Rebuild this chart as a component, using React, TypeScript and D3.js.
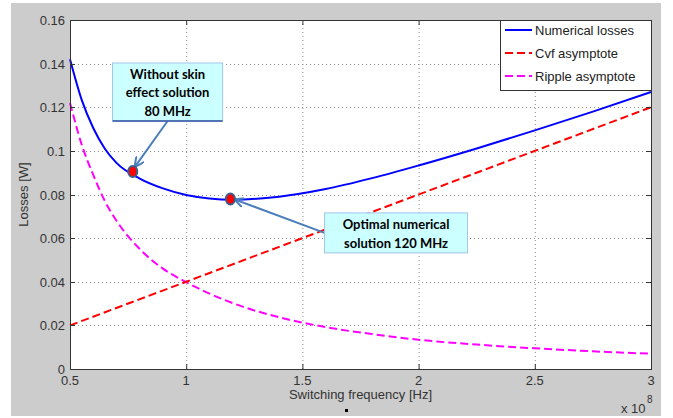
import React from 'react';
import * as d3 from 'd3';

// switching frequency in units of 1e8 Hz
const freq = [0.5, 0.55, 0.6, 0.65, 0.7, 0.8, 0.9, 1.0, 1.2, 1.4, 1.6, 1.8, 2.0, 2.25, 2.5, 2.75, 3.0];
const numericalLosses = [0.142, 0.1235, 0.1105, 0.101, 0.0945, 0.0873, 0.0828, 0.0798, 0.0776, 0.079, 0.0825, 0.0875, 0.0933, 0.1011, 0.1094, 0.118, 0.127];
const rippleAsymptote = [0.122, 0.103, 0.089, 0.077, 0.068, 0.055, 0.046, 0.0398, 0.0302, 0.0237, 0.0192, 0.016, 0.0134, 0.0112, 0.0095, 0.0081, 0.007];
const cvfFreq = [0.5, 3.0];
const cvfAsymptote = [0.02, 0.12];

const xTicks = [0.5, 1, 1.5, 2, 2.5, 3];
const xTickLabels = ['0.5', '1', '1.5', '2', '2.5', '3'];
const yTicks = [0, 0.02, 0.04, 0.06, 0.08, 0.1, 0.12, 0.14, 0.16];
const yTickLabels = ['0', '0.02', '0.04', '0.06', '0.08', '0.1', '0.12', '0.14', '0.16'];

const legendNames = ['Numerical losses', 'Cvf asymptote', 'Ripple asymptote'];
const legendColors = ['#0000ff', '#ff0000', '#ff00ff'];
const legendDash = [null, '8,4', '8,4'];

// highlighted solutions
const solutionFreq = [0.77, 1.19];
const solutionLoss = [0.0905, 0.0779];

const W = 673;
const H = 418;
const margin = { left: 70, top: 20, right: 22, bottom: 49 };

export default function App() {
  const x = d3.scaleLinear().domain([0.5, 3]).range([margin.left, W - margin.right]);
  const y = d3.scaleLinear().domain([0, 0.16]).range([H - margin.bottom, margin.top]);
  const x0 = x.range()[0];
  const x1 = x.range()[1];
  const y0 = y.range()[0];
  const y1 = y.range()[1];

  const line = d3
    .line<number>()
    .x((d, i) => x(freq[i]))
    .y(d => y(d))
    .curve(d3.curveMonotoneX);
  const cvfLine = d3
    .line<number>()
    .x((d, i) => x(cvfFreq[i]))
    .y(d => y(d));

  const font = '"Liberation Sans", Arial, sans-serif';
  const noteFont = 'Lato, "Open Sans", sans-serif';
  const arrowColor = '#4a7ebb';

  // annotation boxes, anchored in data space
  const box1 = { cx: x(0.92), cy: y(0.127), w: 110, h: 58 };
  const box2 = { cx: x(1.903), cy: y(0.0624), w: 143, h: 40 };

  return (
    <svg
      width={W}
      height={H}
      style={{ position: 'absolute', left: 0, top: 0, display: 'block' }}
    >
      <defs>
        <marker id="arrow" viewBox="0 0 10 10" refX="8" refY="5" markerWidth="5" markerHeight="5" orient="auto">
          <path d="M0,0 L10,5 L0,10" fill="none" stroke={arrowColor} strokeWidth="2" />
        </marker>
      </defs>
      <rect x={0} y={0} width={W} height={H} fill="#ffffff" />
      <rect x={11} y={3} width={650} height={413} fill="#cccccc" />
      <rect x={x0} y={y1} width={x1 - x0} height={y0 - y1} fill="#ffffff" />

      {/* grid */}
      <g stroke="#8a8a8a" strokeWidth={1} strokeDasharray="1,3">
        {xTicks.slice(1, -1).map(t => (
          <line key={'gx' + t} x1={x(t) + 0.5} x2={x(t) + 0.5} y1={y1} y2={y0} />
        ))}
        {yTicks.slice(1, -1).map(t => (
          <line key={'gy' + t} x1={x0} x2={x1} y1={Math.round(y(t)) + 0.5} y2={Math.round(y(t)) + 0.5} />
        ))}
      </g>

      {/* curves */}
      <path d={line(rippleAsymptote) || ''} fill="none" stroke="#ff00ff" strokeWidth={2} strokeDasharray="8,4" />
      <path d={cvfLine(cvfAsymptote) || ''} fill="none" stroke="#ff0000" strokeWidth={2} strokeDasharray="8,4" />
      <path d={line(numericalLosses) || ''} fill="none" stroke="#0000ff" strokeWidth={2} />

      {/* axes box & ticks */}
      <g stroke="#333333" strokeWidth={1} fill="none">
        <rect x={x0 + 0.5} y={y1 + 0.5} width={x1 - x0} height={y0 - y1} />
        {xTicks.map(t => (
          <g key={'tx' + t}>
            <line x1={x(t) + 0.5} x2={x(t) + 0.5} y1={y0} y2={y0 - 5} />
            <line x1={x(t) + 0.5} x2={x(t) + 0.5} y1={y1} y2={y1 + 5} />
          </g>
        ))}
        {yTicks.map(t => (
          <g key={'ty' + t}>
            <line x1={x0} x2={x0 + 5} y1={Math.round(y(t)) + 0.5} y2={Math.round(y(t)) + 0.5} />
            <line x1={x1} x2={x1 - 5} y1={Math.round(y(t)) + 0.5} y2={Math.round(y(t)) + 0.5} />
          </g>
        ))}
      </g>

      <g fontFamily={font} fontSize={13} fill="#333333">
        {xTicks.map((t, i) => (
          <text key={'lx' + t} x={x(t)} y={y0 + 16} textAnchor="middle">
            {xTickLabels[i]}
          </text>
        ))}
        {yTicks.map((t, i) => (
          <text key={'ly' + t} x={x0 - 5} y={y(t) + 5} textAnchor="end">
            {yTickLabels[i]}
          </text>
        ))}
        <text x={(x0 + x1) / 2} y={y0 + 30} textAnchor="middle">
          Switching frequency [Hz]
        </text>
        <text transform={`translate(${x0 - 42},${(y0 + y1) / 2}) rotate(-90)`} textAnchor="middle">
          Losses [W]
        </text>
        <text x={x1 - 30} y={y0 + 44}>x 10</text>
        <text x={x1 - 4} y={y0 + 34} fontSize={10}>8</text>
      </g>
      <rect x={345} y={409} width={3} height={3} fill="#000000" />

      {/* legend */}
      <g>
        <rect x={500.5} y={y1 + 0.5} width={x1 - 500} height={70} fill="#ffffff" stroke="#333333" />
        {legendNames.map((name, i) => (
          <g key={name} transform={`translate(505,${y1 + 10 + i * 23})`}>
            <line x1={0} x2={27} y1={0} y2={0} stroke={legendColors[i]} strokeWidth={2} strokeDasharray={legendDash[i] || undefined} />
            <text x={30} y={5} fontFamily={font} fontSize={13} fill="#222222">
              {name}
            </text>
          </g>
        ))}
      </g>

      {/* annotations */}
      <line x1={box1.cx} y1={box1.cy + box1.h / 2} x2={x(solutionFreq[0]) + 3} y2={y(solutionLoss[0]) - 6} stroke={arrowColor} strokeWidth={2} markerEnd="url(#arrow)" />
      <line x1={box2.cx - box2.w / 2} y1={box2.cy} x2={x(solutionFreq[1]) + 6} y2={y(solutionLoss[1]) + 1} stroke={arrowColor} strokeWidth={2} markerEnd="url(#arrow)" />
      {solutionFreq.map((f, i) => (
        <ellipse key={'s' + i} cx={x(f)} cy={y(solutionLoss[i])} rx={4.5} ry={5.5} fill="#ff0000" stroke="#3b5f8a" strokeWidth={2} />
      ))}

      <g fontFamily={noteFont} fontWeight="bold" fontSize={13} fill="#000000" textAnchor="middle">
        <rect x={box1.cx - box1.w / 2} y={box1.cy - box1.h / 2} width={box1.w} height={box1.h} fill="#ccffff" stroke="#9fc5ea" />
        <line x1={box1.cx - box1.w / 2} x2={box1.cx + box1.w / 2} y1={box1.cy + box1.h / 2} y2={box1.cy + box1.h / 2} stroke="#2e4fa0" strokeWidth={1.5} />
        <text x={box1.cx} y={box1.cy - 13}>Without skin</text>
        <text x={box1.cx} y={box1.cy + 5}>effect solution</text>
        <text x={box1.cx} y={box1.cy + 24}>80 MHz</text>

        <rect x={box2.cx - box2.w / 2} y={box2.cy - box2.h / 2} width={box2.w} height={box2.h} fill="#ccffff" stroke="#9fc5ea" />
        <text x={box2.cx} y={box2.cy - 4}>Optimal numerical</text>
        <text x={box2.cx} y={box2.cy + 15}>solution 120 MHz</text>
      </g>
    </svg>
  );
}
